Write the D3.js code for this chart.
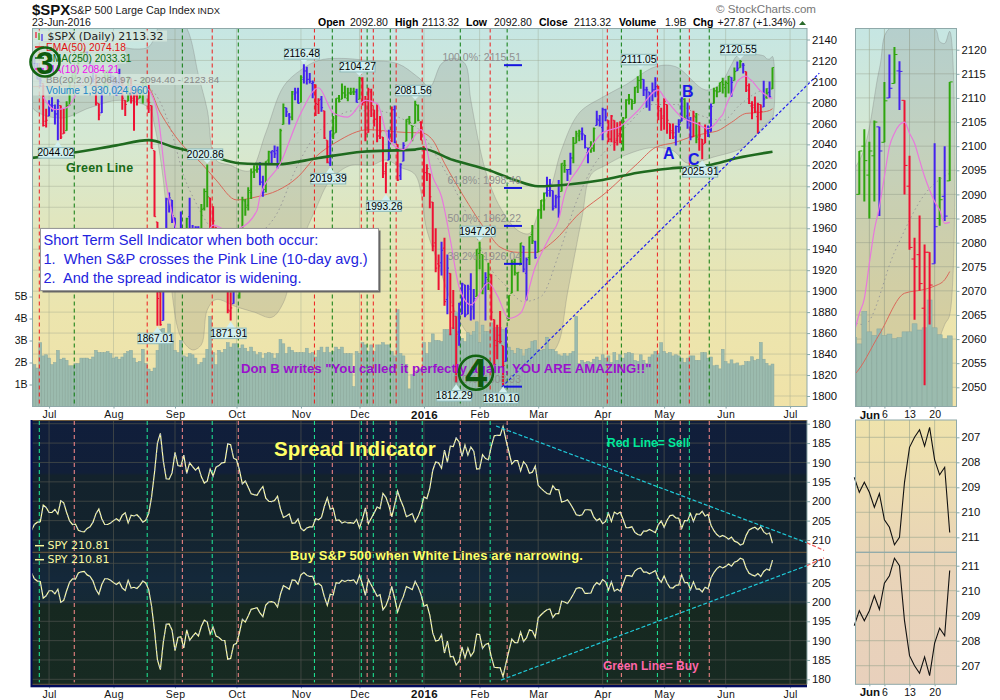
<!DOCTYPE html>
<html>
<head>
<meta charset="utf-8">
<script src="https://cdn.jsdelivr.net/npm/d3@7"></script>
<style>
  html, body { margin: 0; padding: 0; background: #fff; }
  svg { display: block; }
  text { font-family: "Liberation Sans", Arial, sans-serif; }
</style>
</head>
<body>
<svg id="chart" width="1000" height="700"></svg>
<script>
// trading day index: 0 = 23-Jun-2015, 253 = 23-Jun-2016
const monthDays = [6, 28, 49, 70, 92, 112, 134, 153, 173, 195, 216, 237, 259];
const monthNames = ["Jul", "Aug", "Sep", "Oct", "Nov", "Dec", "2016", "Feb", "Mar", "Apr", "May", "Jun", "Jul"];
const priceTicks = d3.range(1800, 2141, 20);
const volumeTicks = [1, 2, 3, 4, 5];

// open, high, low, close per day
const ohlcRows = [
  [2116,2127,2116,2124],[2124,2125,2108,2109],[2109,2117,2102,2102],[2103,2109,2095,2101],[2098,2098,2057,2058],[2062,2074,2056,2063],
  // Jul
  [2067,2082,2067,2077],[2078,2085,2071,2077],[2073,2078,2059,2069],[2069,2083,2044.02,2081],[2077,2077,2045,2047],[2050,2074,2050,2051],[2053,2081,2053,2077],[2077,2100,2077,2100],[2100,2111,2099,2109],[2109,2114,2102,2107],[2111,2125,2111,2124],[2124,2128,2119,2127],[2127,2132,2123,2128],[2127,2129,2119,2119],[2119,2119,2113,2114],[2113,2116,2099,2102],[2102,2107,2077,2080],[2079,2079,2063,2068],[2070,2095,2070,2093],[2093,2111,2094,2109],[2109,2111,2094,2109],[2111,2114,2099,2104],
  // Aug
  [2105,2105,2088,2098],[2097,2102,2086,2093],[2095,2112,2095,2100],[2100,2104,2073,2084],[2082,2082,2067,2078],[2081,2105,2081,2104],[2103,2103,2079,2084],[2082,2090,2053,2086],[2087,2093,2077,2083],[2084,2093,2084,2092],[2090,2103,2079,2102],[2102,2104,2093,2097],[2095,2097,2070,2080],[2077,2077,2036,2036],[2034,2034,1971,1971],[1966,1966,1867.01,1893],[1899,1949,1867,1868],[1872,1944,1872,1941],[1943,1989,1943,1988],[1987,1994,1975,1989],[1987,1987,1965,1972],
  // Sep
  [1970,1970,1903,1914],[1916,1948,1916,1949],[1950,1976,1944,1951],[1947,1947,1911,1921],[1928,1970,1928,1969],[1971,1989,1937,1942],[1938,1963,1931,1952],[1951,1962,1939,1961],[1961,1962,1945,1953],[1953,1983,1948,1978],[1979,1998,1977,1995],[1995,2020.86,1980,1990],[1989,1989,1953,1958],[1960,1981,1952,1967],[1961,1961,1930,1943],[1939,1950,1927,1939],[1933,1945,1908,1932],[1936,1953,1913,1931],[1929,1929,1879,1882],[1881,1899,1871.91,1884],[1888,1920,1888,1920],
  // Oct
  [1919,1927,1900,1924],[1921,1952,1893,1951],[1954,1990,1954,1987],[1986,1988,1972,1980],[1982,1999,1977,1996],[1994,2017,1988,2013],[2014,2020,2008,2015],[2016,2020,2013,2017],[2016,2023,2001,2004],[2004,2010,1990,1994],[1997,2024,1994,2024],[2025,2034,2021,2033],[2032,2034,2022,2034],[2033,2039,2027,2031],[2034,2038,2017,2019],[2021,2055,2021,2053],[2059,2079,2059,2075],[2075,2075,2066,2071],[2068,2070,2059,2066],[2066,2091,2063,2090],[2088,2094,2082,2089],[2090,2094,2079,2079],
  // Nov
  [2080,2106,2080,2104],[2102,2116.48,2098,2110],[2110,2114,2097,2102],[2102,2108,2098,2100],[2098,2101,2084,2099],[2097,2097,2067,2079],[2078,2084,2069,2082],[2083,2086,2071,2075],[2072,2072,2045,2046],[2044,2044,2022,2023],[2022,2053,2019.39,2053],[2053,2067,2045,2050],[2051,2084,2051,2084],[2084,2087,2080,2081],[2083,2098,2083,2089],[2089,2096,2084,2087],[2084,2094,2081,2089],[2089,2094,2087,2089],[2090,2094,2087,2090],[2090,2093,2080,2080],
  // Dec
  [2083,2104.27,2083,2103],[2102,2104,2077,2080],[2080,2086,2043,2050],[2051,2094,2051,2092],[2090,2093,2066,2077],[2073,2073,2057,2064],[2064,2078,2042,2048],[2048,2067,2045,2052],[2047,2047,2008,2012],[2014,2023,1993.26,2022],[2025,2054,2025,2043],[2046,2076,2042,2073],[2073,2077,2041,2042],[2040,2040,2005,2006],[2010,2022,2006,2021],[2024,2042,2024,2039],[2043,2064,2043,2064],[2064,2067,2059,2061],[2058,2058,2043,2057],[2060,2081.56,2060,2078],[2077,2078,2062,2063],[2061,2062,2044,2044],
  // Jan
  [2038,2038,1990,2013],[2013,2021,2005,2017],[2012,2012,1979,1990],[1985,1985,1938,1943],[1946,1960,1918,1922],[1926,1935,1901,1924],[1927,1947,1915,1939],[1941,1951,1886,1890],[1892,1935,1878,1922],[1917,1917,1858,1880],[1886,1901,1864,1881],[1876,1876,1812.29,1859],[1861,1889,1848,1869],[1878,1908,1878,1907],[1906,1906,1875,1877],[1878,1906,1878,1904],[1902,1917,1872,1883],[1885,1902,1873,1893],[1895,1940,1895,1940],
  // Feb
  [1936,1947.20,1921,1939],[1935,1935,1897,1903],[1907,1918,1872,1913],[1911,1927,1901,1916],[1915,1916,1872,1880],[1873,1873,1829,1853],[1848,1868,1835,1852],[1858,1881,1850,1852],[1848,1848,1810.10,1829],[1833,1865,1833,1865],[1872,1896,1872,1896],[1898,1930,1898,1927],[1928,1931,1915,1918],[1917,1918,1900,1918],[1925,1946,1925,1946],[1943,1943,1918,1921],[1917,1932,1891,1930],[1932,1952,1925,1952],[1954,1963,1945,1948],[1947,1948,1931,1932],
  // Mar
  [1937,1978,1937,1978],[1977,1987,1969,1987],[1986,1994,1977,1993],[1994,2009,1990,2000],[1996,2007,1990,2002],[1996,1996,1977,1979],[1981,1992,1979,1989],[1990,2006,1970,1990],[1995,2022,1995,2022],[2020,2025,2013,2020],[2016,2016,2005,2016],[2016,2032,2011,2027],[2027,2047,2022,2041],[2041,2053,2041,2050],[2048,2054,2043,2052],[2050,2056,2044,2050],[2049,2049,2036,2037],[2032,2037,2022,2036],[2037,2043,2032,2037],[2036,2056,2033,2055],[2058,2072,2058,2064],[2063,2068,2057,2060],
  // Apr
  [2056,2075,2044,2073],[2073,2074,2062,2066],[2063,2063,2042,2045],[2045,2068,2042,2067],[2063,2063,2034,2042],[2044,2061,2039,2048],[2050,2062,2041,2042],[2043,2066,2034,2062],[2065,2083,2065,2082],[2083,2088,2078,2083],[2083,2083,2073,2081],[2079,2095,2079,2094],[2095,2105,2089,2101],[2101,2111.05,2093,2102],[2102,2102,2086,2092],[2092,2095,2075,2092],[2090,2090,2072,2088],[2088,2099,2081,2092],[2092,2104,2085,2095],[2095,2096,2063,2076],[2072,2075,2053,2065],
  // May
  [2067,2084,2054,2081],[2078,2078,2050,2063],[2060,2060,2045,2051],[2053,2060,2045,2051],[2047,2058,2039,2057],[2057,2064,2051,2059],[2062,2085,2062,2084],[2083,2084,2064,2065],[2067,2080,2055,2064],[2062,2066,2044,2047],[2047,2072,2047,2067],[2066,2070,2041,2047],[2045,2061,2034,2048],[2045,2045,2025.91,2040],[2041,2059,2041,2052],[2053,2058,2047,2048],[2052,2079,2052,2076],[2079,2094,2079,2091],[2091,2095,2085,2090],[2090,2099,2090,2099],[2100,2103.5,2088.5,2097],
  // Jun
  [2094,2100.9,2085,2099],[2098,2105.3,2088.5,2105],[2104,2104,2085.5,2099],[2100.8,2113.3,2100.8,2109.4],[2110,2119,2110,2112],[2113,2120.55,2113,2119],[2115.6,2117.6,2107.5,2115.5],[2109.5,2109.5,2090,2096],[2091.7,2098,2078.5,2079],[2076.6,2081,2064,2075],[2077.5,2085.6,2070,2071.5],[2066.4,2079.6,2050.4,2078],[2078,2078,2063,2071.2],[2075.6,2100.6,2075.6,2083.3],[2085,2093.6,2083.5,2088.9],[2089.6,2100,2084.5,2085.5],[2092.8,2113.32,2092.8,2113.32]
];

// bar state per day: g, b, r
const barState = ("gbbbrr" +
  "bbbbrrgggggggbbbrrbggb" +
  "bbbrrgrrrgggrrrrrbbbb" +
  "bbbbgbbbbgggrrrrrrrrb" +
  "bgggggggbbggbbbggbbgbb" +
  "gbbbbrrbrrbggggggggb" +
  "grrrrrrrrrbrbrbbgggggr" +
  "rrrrrrbrbrrrbbbbbbg" +
  "ggbgrrrrrbgggggbbggb" +
  "gggbbbbbggbbgggbbbggbb" +
  "bbrrrrrgggggggbbbbbrr" +
  "rrrrbbbgbbrgrrrbbgggg" +
  "ggbgbgbrrrrrrbgbg").split("");

// volume in billions
const volumeB = [
  1.95,1.9,1.75,2.9,2.3,2.35,
  2.2,1.9,2.0,2.55,2.15,2.2,2.1,1.85,1.85,1.95,1.95,2.2,2.2,2.2,2.15,2.25,2.55,2.45,2.45,2.45,2.5,2.4,
  2.2,2.25,2.15,2.25,2.4,2.5,2.55,2.2,2.0,2.05,2.6,1.95,1.7,1.6,1.75,2.55,3.5,3.55,3.3,3.75,3.0,
  2.55,2.45,3.0,2.3,2.25,2.4,2.35,2.2,1.9,2.0,2.2,2.6,4.1,2.45,1.9,2.55,2.45,2.6,2.9,2.7,2.85,
  2.85,2.65,2.8,2.65,2.5,2.7,2.5,2.35,2.45,2.2,2.4,2.45,2.4,2.2,2.4,3.05,2.85,2.4,2.7,2.55,2.45,2.45,
  2.45,2.45,2.65,2.4,2.45,2.25,2.55,2.7,2.45,2.7,2.45,2.5,2.7,2.6,2.7,2.4,2.4,2.4,0.9,2.5,
  2.4,2.9,2.8,2.5,2.8,2.5,2.8,2.8,2.9,2.8,2.8,2.5,2.3,4.4,2.4,2.3,1.9,0.8,1.45,1.5,1.65,1.7,
  2.9,2.4,2.9,3.3,3.0,3.0,2.95,3.5,3.5,3.3,3.6,4.3,3.2,3.1,2.95,3.35,3.25,3.4,3.85,
  2.9,3.7,3.4,3.4,3.8,3.55,3.6,3.6,3.5,2.9,2.7,2.55,2.4,2.65,2.6,2.3,2.6,2.65,2.95,3.0,
  2.6,2.55,2.6,3.15,2.6,2.6,2.5,2.35,2.3,2.4,2.3,2.4,2.5,4.1,1.95,2.1,2.0,2.05,2.0,2.15,2.25,2.1,
  2.35,2.2,2.3,2.0,2.45,2.1,2.35,2.2,2.4,2.45,2.4,2.1,2.05,2.35,2.1,1.95,2.25,2.35,2.5,2.4,2.9,
  2.5,2.4,2.45,2.3,2.35,2.3,2.2,2.0,2.2,2.3,2.3,2.1,2.1,2.45,2.45,2.2,2.25,1.85,1.88,1.71,2.6,
  2.04,1.94,2.12,1.94,1.98,1.85,1.88,2.04,2.04,2.26,2.09,2.15,2.91,2.15,1.96,1.85,1.93
];

// SPY per day, drawn twice in the spread panel
const spyClose = [
  207.5,206.0,205.4,205.3,201.0,201.6,
  202.9,202.9,202.1,203.3,199.9,200.4,202.9,205.1,206.0,205.9,207.5,207.8,207.9,207.0,206.6,205.4,203.2,202.0,204.5,206.0,206.0,205.6,
  205.0,204.5,205.1,203.6,203.0,205.6,203.6,203.8,203.5,204.3,205.4,204.9,203.2,198.9,192.6,185.0,182.5,189.6,194.2,194.3,192.7,
  187.4,190.8,191.0,188.1,192.8,190.1,191.1,192.0,191.2,193.7,195.3,194.8,191.7,193.5,191.2,190.8,190.1,190.0,185.2,185.4,188.9,
  189.3,192.0,195.5,194.8,196.4,198.1,198.3,198.5,197.2,196.2,199.2,200.0,200.1,199.8,198.7,202.0,204.2,203.8,203.3,205.7,205.6,204.6,
  207.0,207.6,206.9,206.6,206.6,204.5,204.8,204.2,201.3,199.1,202.0,201.8,205.0,204.8,205.6,205.3,205.6,205.5,205.7,204.7,
  206.9,204.6,201.7,205.8,204.4,203.0,201.5,201.9,198.0,199.0,201.1,204.0,200.9,197.4,199.7,201.5,204.0,203.6,203.2,205.3,203.9,201.9,
  198.9,199.3,196.6,192.0,189.9,190.1,191.5,186.8,189.9,185.8,185.9,183.7,184.7,188.4,185.5,188.1,186.0,187.1,191.7,
  191.6,188.0,189.0,189.3,185.8,183.1,183.0,183.0,180.7,184.2,187.3,190.4,189.5,189.5,192.2,189.8,190.7,192.8,192.5,190.9,
  195.9,196.7,197.4,198.0,198.2,196.0,197.0,197.0,200.2,200.0,199.6,200.7,202.0,203.5,203.7,203.5,202.2,202.2,202.3,204.1,205.0,204.5,
  205.8,205.2,203.1,205.2,202.8,203.3,202.8,204.7,206.8,206.8,206.6,208.0,208.6,208.8,207.7,207.7,207.3,207.7,208.1,206.1,205.1,
  206.7,204.9,203.7,203.6,204.3,204.4,207.0,205.0,205.0,203.2,205.2,203.3,203.4,202.6,203.8,203.4,206.2,207.6,208.6,209.2,208.8,
  209.2,209.8,209.25,210.3,210.6,211.3,211.0,208.8,207.4,207.0,206.7,207.35,206.6,207.9,208.5,208.2,210.81
];

// overlay lines, read at selected days
const sma250Days = [0,14,29,40,49,60,71,84,98,113,131,133,144,156,165,173,184,195,207,218,231,241,253];
const sma250Vals = [2027,2032,2039,2044,2037,2030,2022,2021,2027,2033,2035,2036,2025,2015.5,2006,2000,2002,2006,2013,2017,2020,2027,2033];
const ema50Days = [0,20,39,44,51,58,63,70,77,84,91,97,104,115,124,132,133,137,141,147,156,160,166,172,178,187,197,202,207,213,220,225,231,234,239,244,248,250,252,253];
const ema50Vals = [2095,2096,2097,2070,2041,2022,2006,1987,1990,1996,2009,2028,2042,2054,2052,2051,2051,2044,2022,1993,1955,1942,1937,1937,1947,1974,1996,2009,2022,2037,2042,2047,2051,2052.6,2061,2069.5,2070.3,2071,2072.3,2074];
const ma10Days = [4,8,12,16,20,28,36,39,43,46,48,52,56,59,62,67,71,77,78,85,92,98,103,108,114,118,122,127,133,137,140,143,146,150,156,159,163,167,172,177,180,182,187,195,201,207,214,216,222,227,231,234,235,236,237,238,239,240,241,242,243,244,245,246,247,248,249,250,251,252,253];
const ma10Vals = [2085,2073,2075,2092,2115,2095,2095,2094,2070,2003,1974,1945,1945,1950,1963,1958,1960,1977,1990,2022,2070,2094,2070,2066,2082,2079,2044,2035,2054,2009,1990,1949,1904,1887,1908,1896,1874,1879,1923,1952,1968,1992,2018,2051,2057,2072,2092,2085,2066,2060,2055,2061.5,2065.3,2068.4,2075.7,2082.6,2087.5,2093.7,2099.9,2102.7,2104.4,2105,2102.7,2100.6,2097.1,2093.7,2090.9,2088.5,2086.8,2084,2084.2];
const bbUpDays = [0,30,35,40,43,46,53,57,60,63,68,72,75,80,86,92,98,105,115,125,132,136,140,144,148,150,155,160,166,170,173,177,181,187,195,203,213,220,230,235,239,241,250,251,252,253];
const bbUpVals = [2133,2133,2131,2133,2150,2175,2151,2106,2073,2025,2020,2015,2015.5,2051,2095,2111,2120,2122,2120,2117,2104,2095,2117,2122,2117,2082,2015,1980,1958,1955,1974,1996,2035,2070,2085,2097,2114,2114,2092,2097,2116,2124.4,2124.4,2121.7,2121.3,2123.8];
const bbLowDays = [0,10,20,30,40,42,45,47,48,51,55,58,60,63,70,76,82,86,89,92,97,102,109,116,121,126,131,135,139,143,148,153,159,164,171,177,180,183,188,191,196,203,212,219,224,233,243,248,252,253];
const bbLowVals = [2076,2065,2075,2082,2075,2058,2006,1939,1898,1856,1844,1849,1882,1892,1885,1880,1875,1889,1920,1946,1978,2006,2020,2020,2025,2018,2011,1958,1925,1892,1863,1849,1839,1832,1832,1839,1851,1898,1971,2011,2020,2030,2037,2034,2022,2028,2037,2051,2063,2065];
const bbMidDays = [0,20,40,44,48,52,56,60,66,72,78,84,90,96,102,110,118,126,132,138,144,150,156,162,168,174,180,186,192,198,204,212,220,228,236,242,248,253];
const bbMidVals = [2105,2098,2093,2080,2050,2010,1985,1965,1950,1945,1955,1975,2015,2045,2062,2072,2072,2065,2055,2030,2000,1965,1925,1905,1890,1895,1935,1985,2020,2040,2060,2078,2078,2068,2063,2078,2090,2094.4];

// signal lines between bars
const sellDays = [2.66, 39.5, 61.7, 96.6, 112.6, 116.7, 124.5, 133.4, 156.6, 196.6, 213.7, 224.6];
const buyDays = [14.6, 51.5, 70.6, 102.7, 114.6, 122.5, 146.4, 162.4, 201.4, 221.5, 231.4];

// high and low tags
const tagDays = [9, 43, 60, 68, 93, 102, 112, 121, 131, 145, 153, 161, 208, 229, 242];
const tagVals = [2044.02, 1867.01, 2020.86, 1871.91, 2116.48, 2019.39, 2104.27, 1993.26, 2081.56, 1812.29, 1947.20, 1810.10, 2111.05, 2025.91, 2120.55];
const tagAbove = [false, false, true, false, true, false, true, false, true, false, true, false, true, false, true];

// fibonacci levels
const fibNames = ["100.0%", "61.8%", "50.0%", "38.2%", "0.0%"];
const fibVals = [2115.51, 1998.40, 1962.22, 1926.04, 1808.93];

// hand drawn lines: day, value
const priceTrendDays = [160.6, 269];
const priceTrendVals = [1808.6, 2108];
const sellTrendDays = [158.6, 264.7];
const sellTrendVals = [180.6, 210.7];
const sellTrendEndDays = [264.7, 270.6];
const sellTrendEndVals = [210.7, 212.7];
const buyTrendDays = [160.3, 264.7];
const buyTrendVals = [179.8, 209.4];
const buyTrendEndDays = [264.7, 270.6];
const buyTrendEndVals = [209.4, 211.4];

const stateColor = { g: "#2fa50f", b: "#4322ee", r: "#ee1133" };
const zip = (a, b) => a.map((d, i) => [d, b[i]]);

// panels
const left = 32.5, right = 807, insetLeft = 855.5, insetRight = 956.5;
const top1 = 28.5, bottom1 = 406.5, top2 = 420, mid2 = 552.3, bottom2 = 684.3;

const x = d3.scaleLinear().domain([0, 253]).range([31.5, 772.5]);
const y = d3.scaleLinear().domain([1800, 2140]).range([396, 39.5]);
const yVol = d3.scaleLinear().domain([0, 5]).range([bottom1, 296.5]);
const ySpreadUp = d3.scaleLinear().domain([180, 210]).range([423.7, 540]);
const ySpreadLow = d3.scaleLinear().domain([180, 210]).range([679.3, 563.3]);

const insetX = d3.scaleLinear().domain([235, 253]).range([859.3, 949.7]);
const insetY = d3.scaleLinear().domain([2050, 2120]).range([387.3, 49.7]);
const insetVol = d3.scaleLinear().domain([0, 1]).range([bottom1, 369.9]);
const insetUp = d3.scaleLinear().domain([207, 211]).range([437.3, 537.3]);
const insetLow = d3.scaleLinear().domain([207, 211]).range([665.7, 565.7]);

const svg = d3.select("#chart");
const defs = svg.append("defs");

function gradient(id, stops) {
  const g = defs.append("linearGradient").attr("id", id).attr("x1", 0).attr("x2", 0).attr("y1", 0).attr("y2", 1);
  stops.forEach(s => g.append("stop").attr("offset", s[0]).attr("stop-color", s[1]));
}
function clip(id, x0, y0, x1, y1) {
  defs.append("clipPath").attr("id", id).append("rect")
    .attr("x", x0).attr("y", y0).attr("width", x1 - x0).attr("height", y1 - y0);
}
gradient("priceBg", [[0, "#c6e6e3"], [0.3, "#d6e8d2"], [0.5, "#e0e6bf"], [0.75, "#ece5ae"], [1, "#f0e2a8"]]);
gradient("spreadBg", [[0, "#101e3b"], [0.2, "#111f38"], [0.21, "#13222c"], [0.4, "#13232d"], [0.6, "#14283a"], [0.69, "#152935"], [0.7, "#162820"], [1, "#172a22"]]);
gradient("insetSpreadUp", [[0, "#efe3ac"], [1, "#e9d5b6"]]);
gradient("insetSpreadLow", [[0, "#e9d5b8"], [1, "#e8d0bc"]]);
clip("clipPrice", left, top1, right, bottom1);
clip("clipSpread", left, top2, right, bottom2);
clip("clipInset", insetLeft, top1, insetRight, bottom1);

function drawLine(g, days, vals, xs, ys, color, width, dash, curve) {
  return g.append("path")
    .datum(zip(days, vals))
    .attr("d", d3.line().x(d => xs(d[0])).y(d => ys(d[1])).curve(curve || d3.curveMonotoneX))
    .attr("fill", "none").attr("stroke", color).attr("stroke-width", width)
    .attr("stroke-dasharray", dash || null);
}

function drawBands(g, xs, ys) {
  const upper = zip(bbUpDays, bbUpVals);
  const lower = zip(bbLowDays, bbLowVals).reverse();
  g.append("path")
    .datum(upper.concat(lower))
    .attr("d", d3.line().x(d => xs(d[0])).y(d => ys(d[1])).curve(d3.curveCatmullRomClosed.alpha(0.5)))
    .attr("fill", "#6c6c6c").attr("fill-opacity", 0.18)
    .attr("stroke", "#777").attr("stroke-opacity", 0.3).attr("stroke-width", 1);
  drawLine(g, bbMidDays, bbMidVals, xs, ys, "#999", 1, "1.5 3");
}

function drawOhlc(g, xs, ys, from, barWidth, tickLen) {
  const rows = ohlcRows.map((r, i) => ({ i: i, o: r[0], h: r[1], l: r[2], c: r[3], s: barState[i] })).filter(d => d.i >= from);
  const bars = g.selectAll("g.bar").data(rows).enter().append("g").attr("stroke", d => stateColor[d.s]);
  bars.append("line").attr("x1", d => xs(d.i)).attr("x2", d => xs(d.i))
    .attr("y1", d => ys(d.h)).attr("y2", d => ys(d.l)).attr("stroke-width", barWidth);
  bars.append("line").attr("x1", d => xs(d.i) - tickLen).attr("x2", d => xs(d.i))
    .attr("y1", d => ys(d.o)).attr("y2", d => ys(d.o)).attr("stroke-width", 1);
  bars.append("line").attr("x1", d => xs(d.i)).attr("x2", d => xs(d.i) + tickLen)
    .attr("y1", d => ys(d.c)).attr("y2", d => ys(d.c)).attr("stroke-width", 1);
}

function drawVolume(g, xs, ys, from, w) {
  const rows = volumeB.map((v, i) => ({ i: i, v: v })).filter(d => d.i >= from);
  g.selectAll("rect.vol").data(rows).enter().append("rect")
    .attr("x", d => xs(d.i) - w / 2).attr("width", w)
    .attr("y", d => ys(d.v)).attr("height", d => bottom1 - ys(d.v))
    .attr("fill", "#9bbbae").attr("stroke", "#86a69e").attr("stroke-width", 0.5);
}

function styleAxis(g, size) {
  g.select(".domain").remove();
  g.selectAll("line").attr("stroke", "#8aa").attr("stroke-width", 1);
  g.selectAll("text").attr("fill", "#111").style("font-size", size + "px");
}

function panelFrame(x0, y0, x1, y1, color) {
  svg.append("rect").attr("x", x0).attr("y", y0).attr("width", x1 - x0).attr("height", y1 - y0)
    .attr("fill", "none").attr("stroke", color).attr("stroke-width", 1);
}

// ---- price panel
svg.append("rect").attr("x", left).attr("y", top1).attr("width", right - left).attr("height", bottom1 - top1).attr("fill", "url(#priceBg)");

const pricePanel = svg.append("g").attr("clip-path", "url(#clipPrice)");
pricePanel.selectAll("line.h").data(priceTicks).enter().append("line")
  .attr("x1", left).attr("x2", right).attr("y1", d => y(d)).attr("y2", d => y(d))
  .attr("stroke", "#9aa58e").attr("stroke-opacity", 0.4);
pricePanel.selectAll("line.v").data(monthDays).enter().append("line")
  .attr("x1", d => x(d)).attr("x2", d => x(d)).attr("y1", top1).attr("y2", bottom1)
  .attr("stroke", "#9aa58e").attr("stroke-opacity", 0.4);

drawBands(pricePanel, x, y);
drawVolume(pricePanel, x, yVol, 0, 2.9);

// signal lines
pricePanel.selectAll("line.sell").data(sellDays).enter().append("line")
  .attr("x1", d => x(d)).attr("x2", d => x(d)).attr("y1", top1).attr("y2", bottom1)
  .attr("stroke", "#ee1c1c").attr("stroke-width", 1).attr("stroke-dasharray", "4 3");
pricePanel.selectAll("line.buy").data(buyDays).enter().append("line")
  .attr("x1", d => x(d)).attr("x2", d => x(d)).attr("y1", top1).attr("y2", bottom1)
  .attr("stroke", "#0b7a0b").attr("stroke-width", 1).attr("stroke-dasharray", "4 3");

drawLine(pricePanel, ema50Days, ema50Vals, x, y, "#d9685a", 1);
drawOhlc(pricePanel, x, y, 0, 2, 1.6);
drawLine(pricePanel, sma250Days, sma250Vals, x, y, "#1f6a1f", 2.6);
drawLine(pricePanel, ma10Days, ma10Vals, x, y, "#e878dc", 1.2);

// fibonacci marks
svg.selectAll("line.fib").data(fibVals).enter().append("line")
  .attr("x1", 504).attr("x2", 522).attr("y1", d => y(d)).attr("y2", d => y(d))
  .attr("stroke", "#1414e0").attr("stroke-width", 2);
svg.selectAll("text.fib").data(fibVals).enter().append("text")
  .attr("x", 521).attr("y", d => y(d) - 4).attr("text-anchor", "end")
  .attr("fill", "#909090").style("font-size", "10.5px")
  .text((d, i) => fibNames[i] + ": " + d.toFixed(2));

drawLine(svg, priceTrendDays, priceTrendVals, x, y, "#2222ee", 1.2, "3 2", d3.curveLinear);

panelFrame(left, top1, right, bottom1, "#8fa9a9");

// legend rows sit over the bars
const legendRows = [
  { text: "$SPX (Daily) 2113.32", color: "#222", y: 36, w: 134, font: "DejaVu Sans", size: 10.9, tx: 47.5 },
  { text: "EMA(50) 2074.18", color: "#e01010", y: 47, w: 92, font: "Liberation Sans", size: 10.2, tx: 46 },
  { text: "SMA(250) 2033.31", color: "#0a6a0a", y: 58, w: 93, font: "Liberation Sans", size: 10.2, tx: 46 },
  { text: "MA(10) 2084.21", color: "#ee11ee", y: 69, w: 84, font: "Liberation Sans", size: 10.2, tx: 46 },
  { text: "BB(20,2.0) 2064.97 - 2094.40 - 2123.84", color: "#888", y: 79.5, w: 181, font: "Liberation Sans", size: 9.8, tx: 46 },
  { text: "Volume 1,930,024,960", color: "#1a86c8", y: 90, w: 115, font: "Liberation Sans", size: 10.2, tx: 46 }
];
const legendSwatch = ["", "#e01010", "#0a6a0a", "#ee11ee", "", ""];
legendRows.forEach((r, i) => {
  svg.append("rect").attr("x", 33).attr("y", r.y - 5.5).attr("width", r.w).attr("height", 11)
    .attr("fill", "#d6e7dd").attr("fill-opacity", 0.82);
  svg.append("text").attr("x", r.tx).attr("y", r.y + 3.7)
    .attr("fill", r.color).style("font-family", `'${r.font}'`).style("font-size", r.size + "px").text(r.text);
  if (legendSwatch[i]) {
    svg.append("line").attr("x1", 35).attr("x2", 44).attr("y1", r.y).attr("y2", r.y)
      .attr("stroke", legendSwatch[i]).attr("stroke-width", 1.5);
  }
});
// small bar icon in front of the title row
svg.append("line").attr("x1", 36).attr("x2", 36).attr("y1", 32).attr("y2", 38).attr("stroke", "#ee1133").attr("stroke-width", 1.2);
svg.append("line").attr("x1", 39).attr("x2", 39).attr("y1", 33).attr("y2", 40).attr("stroke", "#2fa50f").attr("stroke-width", 1.2);
svg.append("line").attr("x1", 42).attr("x2", 42).attr("y1", 34).attr("y2", 41).attr("stroke", "#4322ee").attr("stroke-width", 1.2);

// tags
const tags = svg.selectAll("g.tag").data(tagDays).enter().append("g");
tags.append("path").attr("d", (d, i) => {
  const cx = x(d), vy = y(tagVals[i]);
  return tagAbove[i]
    ? `M${cx - 5},${vy - 6} L${cx},${vy - 1} L${cx + 5},${vy - 6} Z`
    : `M${cx - 5},${vy + 8} L${cx},${vy + 1} L${cx + 5},${vy + 8} Z`;
}).attr("fill", "#d2efef");
tags.append("rect")
  .attr("x", d => x(d) - 2 - 17.5).attr("width", 35).attr("height", 10.5)
  .attr("y", (d, i) => y(tagVals[i]) + (tagAbove[i] ? -15.5 : 7.5))
  .attr("fill", "#d2efef").attr("stroke", "#8fbaba").attr("stroke-width", 1);
tags.append("text")
  .attr("x", d => x(d) - 2).attr("text-anchor", "middle")
  .attr("y", (d, i) => y(tagVals[i]) + (tagAbove[i] ? -6.8 : 16.2))
  .attr("fill", "#000").style("font-size", "10.2px")
  .text((d, i) => tagVals[i].toFixed(2));

// notes on the price panel
svg.append("text").attr("x", 66).attr("y", 172).attr("fill", "#176a17")
  .style("font-size", "12.5px").style("font-weight", "bold").style("letter-spacing", "0.2px").text("Green Line");
svg.append("text").attr("x", 663).attr("y", 159).attr("fill", "#1a1ae6").style("font-size", "16px").style("font-weight", "bold").text("A");
svg.append("text").attr("x", 682).attr("y", 97).attr("fill", "#1a1ae6").style("font-size", "16px").style("font-weight", "bold").text("B");
svg.append("text").attr("x", 688).attr("y", 165).attr("fill", "#1a1ae6").style("font-size", "16px").style("font-weight", "bold").text("C");

svg.append("text").attr("x", 241).attr("y", 373).attr("fill", "#9a11cc")
  .style("font-size", "13.2px").style("font-weight", "bold")
  .text('Don B writes "You called it perfectly again, YOU ARE AMAZING!!"');

function circleNote(cx, cy, r, txt, size) {
  svg.append("circle").attr("cx", cx).attr("cy", cy).attr("r", r)
    .attr("fill", "none").attr("stroke", "#126412").attr("stroke-width", 2.6);
  svg.append("text").attr("x", cx).attr("y", cy + size * 0.36).attr("text-anchor", "middle")
    .attr("fill", "#0d5a0d").style("font-size", size + "px").style("font-weight", "bold").text(txt);
}
circleNote(45, 62, 14.5, "3", 32);
circleNote(476, 372.7, 17, "4", 40);

// note box
svg.append("rect").attr("x", 42.5).attr("y", 230.5).attr("width", 338).attr("height", 62).attr("fill", "#666");
svg.append("rect").attr("x", 40.5).attr("y", 228.5).attr("width", 338).attr("height", 62)
  .attr("fill", "#fff").attr("stroke", "#999");
const noteLines = ["Short Term Sell Indicator when both occur:", "1.  When S&P crosses the Pink Line (10-day avg.)", "2.  And the spread indicator is widening."];
svg.selectAll("text.note").data(noteLines).enter().append("text")
  .attr("x", 43.5).attr("y", (d, i) => 245 + i * 19)
  .attr("fill", "#2323dd").style("font-size", "14.6px").style("white-space", "pre").attr("xml:space", "preserve").text(d => d);

// price axes
const plainNumber = d3.format("d");
const priceAxis = svg.append("g").attr("transform", `translate(${right},0)`)
  .call(d3.axisRight(y).tickValues(priceTicks).tickFormat(plainNumber).tickSize(3).tickPadding(2));
styleAxis(priceAxis, 11.3);

const volumeAxis = svg.append("g").attr("transform", `translate(${left},0)`)
  .call(d3.axisLeft(yVol).tickValues(volumeTicks).tickFormat(d => d + "B").tickSize(3).tickPadding(2));
styleAxis(volumeAxis, 10.5);

function monthAxis(yPos) {
  const ax = svg.append("g").attr("transform", `translate(0,${yPos})`)
    .call(d3.axisBottom(x).tickValues(monthDays).tickFormat((d, i) => monthNames[i]).tickSize(2).tickPadding(2));
  styleAxis(ax, 10.5);
  ax.selectAll("text").style("letter-spacing", "0.3px")
    .filter((d, i) => monthNames[i] === "2016").style("font-weight", "bold").style("font-size", "11.5px");
}
monthAxis(bottom1);
monthAxis(bottom2 + 2);

// ---- spread panel
svg.append("rect").attr("x", left - 2).attr("y", top2).attr("width", right - left + 2).attr("height", bottom2 - top2 + 3).attr("fill", "#000a5c");
svg.append("rect").attr("x", left).attr("y", top2).attr("width", right - left).attr("height", bottom2 - top2).attr("fill", "url(#spreadBg)");

const spreadPanel = svg.append("g").attr("clip-path", "url(#clipSpread)");
const spreadTicks = [180, 185, 190, 195, 200, 205, 210];
[ySpreadUp, ySpreadLow].forEach(s => {
  spreadPanel.selectAll(null).data(spreadTicks).enter().append("line")
    .attr("x1", left).attr("x2", right).attr("y1", d => s(d)).attr("y2", d => s(d))
    .attr("stroke", "#4a4f4a").attr("stroke-opacity", 0.75);
});
spreadPanel.selectAll("line.v").data(monthDays).enter().append("line")
  .attr("x1", d => x(d)).attr("x2", d => x(d)).attr("y1", top2).attr("y2", bottom2)
  .attr("stroke", "#4a4f4a").attr("stroke-opacity", 0.75);
spreadPanel.selectAll("line.sell").data(sellDays).enter().append("line")
  .attr("x1", d => x(d)).attr("x2", d => x(d)).attr("y1", top2 + 1).attr("y2", bottom2 - 2)
  .attr("stroke", "#1fee99").attr("stroke-dasharray", "4 3");
spreadPanel.selectAll("line.buy").data(buyDays).enter().append("line")
  .attr("x1", d => x(d)).attr("x2", d => x(d)).attr("y1", top2 + 1).attr("y2", bottom2 - 2)
  .attr("stroke", "#ff8c8c").attr("stroke-dasharray", "4 3");

const allDays = spyClose.map((d, i) => i);
[ySpreadUp, ySpreadLow].forEach(s => {
  drawLine(spreadPanel, allDays, spyClose, x, s, "#fbfba8", 1.2, null, d3.curveLinear);
  drawLine(spreadPanel, allDays, spyClose, x, s, "#8899ee", 1.2, "1.5 4", d3.curveLinear).attr("stroke-opacity", 0.7);
});

// middle and border lines
svg.append("line").attr("x1", left).attr("x2", right).attr("y1", mid2).attr("y2", mid2).attr("stroke", "#6e5a3c");
svg.append("line").attr("x1", left).attr("x2", right).attr("y1", top2 + 0.5).attr("y2", top2 + 0.5).attr("stroke", "#6e5a3c");
svg.append("line").attr("x1", left).attr("x2", right).attr("y1", bottom2).attr("y2", bottom2).attr("stroke", "#6e5a3c");
svg.append("line").attr("x1", right).attr("x2", right).attr("y1", top2).attr("y2", bottom2).attr("stroke", "#8fa9a9");

drawLine(svg, sellTrendDays, sellTrendVals, x, ySpreadUp, "#1fc9d8", 1.2, "4 2", d3.curveLinear);
drawLine(svg, buyTrendDays, buyTrendVals, x, ySpreadLow, "#1fc9d8", 1.2, "4 2", d3.curveLinear);
drawLine(svg, sellTrendEndDays, sellTrendEndVals, x, ySpreadUp, "#ee5555", 1.2, "4 2", d3.curveLinear);
drawLine(svg, buyTrendEndDays, buyTrendEndVals, x, ySpreadLow, "#ee5555", 1.2, "4 2", d3.curveLinear);

// spread legend and notes
[545.7, 559.7].forEach(ly => {
  svg.append("line").attr("x1", 35).attr("x2", 44).attr("y1", ly).attr("y2", ly).attr("stroke", "#f8f8a0").attr("stroke-width", 1.5);
  svg.append("text").attr("x", 47.5).attr("y", ly + 3.7).attr("fill", "#f8f8a0")
    .style("font-family", "'DejaVu Sans'").style("font-size", "11px").text("SPY 210.81");
});
svg.append("text").attr("x", 274).attr("y", 456).attr("fill", "#ffff66")
  .style("font-size", "20.5px").style("font-weight", "bold").text("Spread Indicator");
svg.append("text").attr("x", 290).attr("y", 560).attr("fill", "#ffff66")
  .style("font-size", "13px").style("font-weight", "bold").style("letter-spacing", "0.15px").text("Buy S&P 500 when White Lines are narrowing.");
svg.append("text").attr("x", 607).attr("y", 447).attr("fill", "#00e89a")
  .style("font-size", "12px").style("font-weight", "bold").text("Red Line= Sell");
svg.append("text").attr("x", 603).attr("y", 670).attr("fill", "#ff66a8")
  .style("font-size", "12px").style("font-weight", "bold").text("Green Line= Buy");

const spreadAxisUp = svg.append("g").attr("transform", `translate(${right},0)`)
  .call(d3.axisRight(ySpreadUp).tickValues(spreadTicks).tickFormat(plainNumber).tickSize(3).tickPadding(2));
styleAxis(spreadAxisUp, 11.3);
const spreadAxisLow = svg.append("g").attr("transform", `translate(${right},0)`)
  .call(d3.axisRight(ySpreadLow).tickValues(spreadTicks).tickFormat(plainNumber).tickSize(3).tickPadding(2));
styleAxis(spreadAxisLow, 11.3);

// ---- inset for June
const insetDays = [237, 240, 245, 250];
const insetDayNames = ["Jun", "6", "13", "20"];
const insetPriceTicks = d3.range(2050, 2121, 5);

svg.append("rect").attr("x", insetLeft).attr("y", top1).attr("width", insetRight - insetLeft).attr("height", bottom1 - top1).attr("fill", "url(#priceBg)");
const insetPanel = svg.append("g").attr("clip-path", "url(#clipInset)");
insetPanel.selectAll("line.h").data(insetPriceTicks).enter().append("line")
  .attr("x1", insetLeft).attr("x2", insetRight).attr("y1", d => insetY(d)).attr("y2", d => insetY(d))
  .attr("stroke", "#9aa58e").attr("stroke-opacity", 0.45);
insetPanel.selectAll("line.v").data(insetDays).enter().append("line")
  .attr("x1", d => insetX(d)).attr("x2", d => insetX(d)).attr("y1", top1).attr("y2", bottom1)
  .attr("stroke", "#9aa58e").attr("stroke-opacity", 0.55);
drawBands(insetPanel, insetX, insetY);
drawVolume(insetPanel, insetX, insetVol, 234, 5);
drawLine(insetPanel, ema50Days, ema50Vals, insetX, insetY, "#d9685a", 1);
drawOhlc(insetPanel, insetX, insetY, 235, 2, 3);
drawLine(insetPanel, ma10Days, ma10Vals, insetX, insetY, "#e878dc", 1.2);
panelFrame(insetLeft, top1, insetRight, bottom1, "#8fa9a9");

const insetPriceAxis = svg.append("g").attr("transform", `translate(${insetRight},0)`)
  .call(d3.axisRight(insetY).tickValues(insetPriceTicks).tickFormat(plainNumber).tickSize(3).tickPadding(2));
styleAxis(insetPriceAxis, 11.3);

function insetDayAxis(yPos) {
  const ax = svg.append("g").attr("transform", `translate(0,${yPos})`)
    .call(d3.axisBottom(insetX).tickValues(insetDays).tickFormat((d, i) => insetDayNames[i]).tickSize(2).tickPadding(2));
  styleAxis(ax, 10.5);
  ax.selectAll("text").filter((d, i) => i === 0).style("font-weight", "bold").style("font-size", "11.5px");
}
insetDayAxis(bottom1);
insetDayAxis(bottom2);

// inset spread panels
svg.append("rect").attr("x", insetLeft).attr("y", top2).attr("width", insetRight - insetLeft).attr("height", mid2 - top2).attr("fill", "url(#insetSpreadUp)");
svg.append("rect").attr("x", insetLeft).attr("y", mid2).attr("width", insetRight - insetLeft).attr("height", bottom2 - mid2).attr("fill", "url(#insetSpreadLow)");
const insetSpreadTicks = [207, 208, 209, 210, 211];
[insetUp, insetLow].forEach(s => {
  svg.selectAll(null).data(insetSpreadTicks).enter().append("line")
    .attr("x1", insetLeft).attr("x2", insetRight).attr("y1", d => s(d)).attr("y2", d => s(d))
    .attr("stroke", "#9aa58e").attr("stroke-opacity", 0.6);
  const ax = svg.append("g").attr("transform", `translate(${insetRight},0)`)
    .call(d3.axisRight(s).tickValues(insetSpreadTicks).tickFormat(plainNumber).tickSize(3).tickPadding(2));
  styleAxis(ax, 11.3);
});
svg.selectAll("line.iv").data(insetDays).enter().append("line")
  .attr("x1", d => insetX(d)).attr("x2", d => insetX(d)).attr("y1", top2).attr("y2", bottom2)
  .attr("stroke", "#9aa58e").attr("stroke-opacity", 0.6);
const insetSpy = spyClose.slice(234);
const insetSpyDays = allDays.slice(234);
drawLine(svg, insetSpyDays, insetSpy, insetX, insetUp, "#111", 1.1, null, d3.curveLinear);
drawLine(svg, insetSpyDays, insetSpy, insetX, insetLow, "#111", 1.1, null, d3.curveLinear);
panelFrame(insetLeft, top2, insetRight, mid2, "#8fa9a9");
panelFrame(insetLeft, mid2, insetRight, bottom2, "#8fa9a9");

// ---- header
svg.append("text").attr("x", 32).attr("y", 15).attr("fill", "#111").style("font-size", "15px").style("font-weight", "bold").text("$SPX");
svg.append("text").attr("x", 70).attr("y", 14).attr("fill", "#222").style("font-size", "10.8px").text("S&P 500 Large Cap Index");
svg.append("text").attr("x", 197.5).attr("y", 14).attr("fill", "#222").style("font-size", "9.4px").text("INDX");
svg.append("text").attr("x", 32).attr("y", 26).attr("fill", "#111").style("font-size", "10.5px").text("23-Jun-2016");
svg.append("text").attr("x", 716).attr("y", 13).attr("fill", "#777").style("font-size", "11.6px").text("© StockCharts.com");

const headerNames = ["Open", "High", "Low", "Close", "Volume", "Chg"];
const headerNameX = [318, 395, 466, 539, 619, 693];
const headerVals = ["2092.80", "2113.32", "2092.80", "2113.32", "1.9B", "+27.87 (+1.34%)"];
const headerValX = [350, 422, 494, 574, 665, 717.5];
headerNames.forEach((n, i) => {
  svg.append("text").attr("x", headerNameX[i]).attr("y", 26).attr("fill", "#000")
    .style("font-size", "10.5px").style("font-weight", "bold").text(n);
  svg.append("text").attr("x", headerValX[i]).attr("y", 26).attr("fill", "#111")
    .style("font-size", "10.5px").text(headerVals[i]);
});
svg.append("path").attr("d", "M799,25 L806,25 L802.5,21 Z").attr("fill", "#2a6a2a");
</script>
</body>
</html>
